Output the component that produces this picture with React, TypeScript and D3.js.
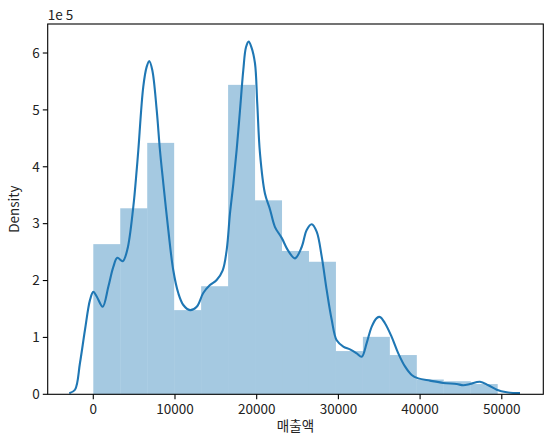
import React from 'react';
import * as d3 from 'd3';

// histogram bins (15 bins of 3300 from 0 to 49500), density in 1e-5 units
const binEdges = [0, 3300, 6600, 9900, 13200, 16500, 19800, 23100, 26400, 29700, 33000, 36300, 39600, 42900, 46200, 49500];
const binDensity = [2.64, 3.27, 4.42, 1.48, 1.90, 5.44, 3.41, 2.52, 2.33, 0.76, 1.01, 0.69, 0.26, 0.23, 0.18];

// KDE curve
const kdeX = [-2940, -2240, -1630, -1020, -400, 0, 420, 1150, 1840, 2450, 2940, 3600, 4160, 4900, 5310, 5510, 6120, 6540, 6850, 7220, 7760, 8160, 8570, 9180, 9790, 10400, 11020, 11840, 12660, 13460, 14280, 15100, 15840, 16330, 16730, 17140, 17550, 17960, 18360, 18690, 19020, 19360, 19790, 20070, 20400, 21010, 21630, 22240, 23060, 23870, 24690, 25510, 26120, 26730, 27340, 27960, 28570, 29180, 29790, 30600, 31420, 32240, 32850, 33460, 34080, 34690, 35090, 35700, 36520, 37330, 38150, 38970, 39780, 41210, 42840, 44480, 45290, 46110, 47330, 48350, 49380, 50600, 52230];
const kdeY = [0.02, 0.08, 0.55, 1.13, 1.66, 1.80, 1.72, 1.54, 1.89, 2.24, 2.40, 2.34, 2.54, 3.30, 3.94, 4.29, 5.41, 5.76, 5.86, 5.70, 5.00, 4.29, 3.71, 2.89, 2.18, 1.78, 1.57, 1.48, 1.54, 1.78, 1.92, 2.01, 2.18, 2.54, 3.18, 3.70, 4.30, 5.00, 5.70, 6.10, 6.20, 6.10, 5.82, 5.11, 4.24, 3.53, 3.25, 2.94, 2.75, 2.52, 2.39, 2.59, 2.89, 2.99, 2.86, 2.42, 1.83, 1.31, 0.95, 0.84, 0.79, 0.72, 0.66, 0.90, 1.19, 1.34, 1.36, 1.25, 1.01, 0.72, 0.49, 0.34, 0.28, 0.24, 0.20, 0.18, 0.16, 0.18, 0.22, 0.16, 0.08, 0.035, 0.02];

const xTicks = [0, 10000, 20000, 30000, 40000, 50000];
const yTicks = [0, 1, 2, 3, 4, 5, 6];

const font = "'Noto Sans CJK KR', 'DejaVu Sans', sans-serif";
const blue = '#1f77b4';

export default function App() {
  const W = 553, H = 447;
  const left = 47.7, right = 543.3, top = 24, bottom = 394.3;

  const x = d3.scaleLinear().domain([-5580, 55080]).range([left, right]);
  const y = d3.scaleLinear().domain([0, 6.51]).range([bottom, top]);

  const kde = kdeX.map((v, i) => [v, kdeY[i]] as [number, number]);
  const line = d3.line<[number, number]>()
    .x(d => x(d[0]))
    .y(d => y(d[1]))
    .curve(d3.curveCatmullRom.alpha(0.5));

  return (
    <svg width={W} height={H} style={{ position: 'absolute', left: 0, top: 0, background: '#fff' }} fontFamily={font}>
      <rect x={0} y={0} width={W} height={H} fill="#fff" />
      {/* bars */}
      {binDensity.map((d, i) => (
        <rect
          key={i}
          x={x(binEdges[i])}
          y={y(d)}
          width={x(binEdges[i + 1]) - x(binEdges[i])}
          height={y(0) - y(d)}
          fill={blue}
          fillOpacity={0.4}
        />
      ))}
      {/* kde */}
      <path d={line(kde) || ''} fill="none" stroke={blue} strokeWidth={2.1} strokeLinejoin="round" />

      {/* frame */}
      <rect x={left} y={top} width={right - left} height={bottom - top} fill="none" stroke="#000" strokeWidth={1.1} />

      {/* x axis */}
      {xTicks.map(t => (
        <g key={t} transform={`translate(${x(t)},${bottom})`}>
          <line y2={4.9} stroke="#000" strokeWidth={1.1} />
          <text y={20} textAnchor="middle" fontSize={13.5} fill="#222">{t}</text>
        </g>
      ))}
      <text x={(left + right) / 2} y={431} textAnchor="middle" fontSize={13.5} fill="#222">매출액</text>

      {/* y axis */}
      {yTicks.map(t => (
        <g key={t} transform={`translate(${left},${y(t)})`}>
          <line x2={-4.9} stroke="#000" strokeWidth={1.1} />
          <text x={-8} dy="0.35em" textAnchor="end" fontSize={13.5} fill="#222">{t}</text>
        </g>
      ))}
      <text transform={`translate(19,${(top + bottom) / 2}) rotate(-90)`} textAnchor="middle" fontSize={13.5} fill="#222">Density</text>
      <text x={left} y={20} fontSize={13.5} fill="#222">1e 5</text>
    </svg>
  );
}
